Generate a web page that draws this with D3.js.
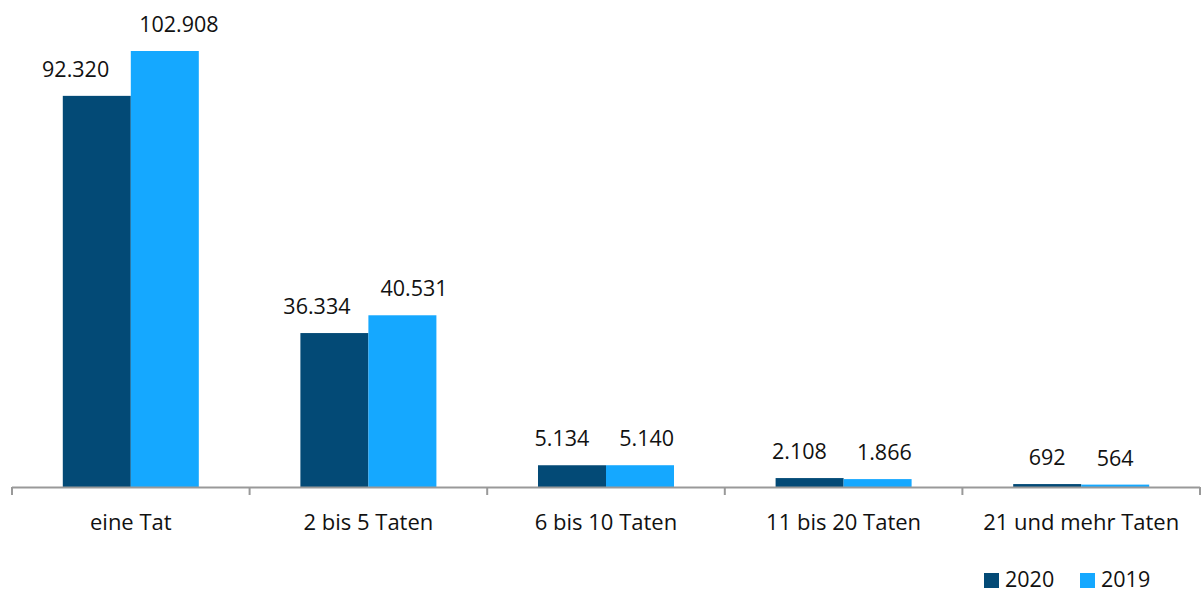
<!DOCTYPE html>
<html><head><meta charset="utf-8">
<script src="https://cdn.jsdelivr.net/npm/d3@7"></script>
<style>body{margin:0;background:#fff}svg{display:block}text{font-family:"Open Sans",Lato,sans-serif;fill:#111}</style>
</head><body><svg id="c" width="1201" height="594"></svg>
<script>
const categories = ["eine Tat","2 bis 5 Taten","6 bis 10 Taten","11 bis 20 Taten","21 und mehr Taten"];
const series = ["2020","2019"];
const values2020 = [92320, 36334, 5134, 2108, 692];
const values2019 = [102908, 40531, 5140, 1866, 564];
const colors = ["#034a76","#15a8ff"];
const fmt = v => d3.format(",")(v).replace(/,/g,".");

const svg = d3.select("#c");
const x = d3.scaleBand().domain(categories).range([12,1200]).paddingInner(0).paddingOuter(0);
const x1 = d3.scaleBand().domain(series).range([0, x.bandwidth()]).paddingInner(0).paddingOuter(0.747);
const y = d3.scaleLinear().domain([0,102908]).range([487,51]);
const data = [values2020, values2019];
const FS = 21.5;

categories.forEach((c,i)=>{
  const labels = series.map((s,j)=>{
    const v = data[j][i];
    svg.append("rect").attr("x", x(c)+x1(s)).attr("y", y(v)).attr("width", x1.bandwidth()).attr("height", Math.max(0, y(0)-y(v))).attr("fill", colors[j]);
    const t = svg.append("text").attr("y", y(v)-19).attr("text-anchor","middle").attr("font-size",FS).text(fmt(v));
    return {t, cx: x(c)+x1(s)+x1.bandwidth()/2, w: t.node().getComputedTextLength()};
  });
  const minGap = 30;
  const gap = (labels[1].cx - labels[1].w/2) - (labels[0].cx + labels[0].w/2);
  if (gap < minGap) { const p = (minGap-gap)/2; labels[0].cx -= p*1.2; labels[1].cx += p*0.8; }
  labels.forEach(l=>l.t.attr("x", l.cx));
});

svg.append("line").attr("x1",12).attr("x2",1200).attr("y1",487.5).attr("y2",487.5).attr("stroke","#999").attr("stroke-width",2);
const ticks = categories.map(c=>x(c)).concat([x.range()[1]]);
svg.selectAll(".tk").data(ticks).enter().append("line").attr("x1",d=>d).attr("x2",d=>d).attr("y1",487).attr("y2",495).attr("stroke","#999").attr("stroke-width",2);
svg.selectAll(".cl").data(categories).enter().append("text").attr("x",d=>x(d)+x.bandwidth()/2).attr("y",530).attr("text-anchor","middle").attr("font-size",22).text(d=>d);

const leg = [{x:984,tx:1005},{x:1080,tx:1101}];
series.forEach((s,j)=>{
  svg.append("rect").attr("x",leg[j].x).attr("y",573).attr("width",15).attr("height",15).attr("fill",colors[j]);
  svg.append("text").attr("x",leg[j].tx).attr("y",587).attr("font-size",FS).text(s);
});
</script></body></html>
